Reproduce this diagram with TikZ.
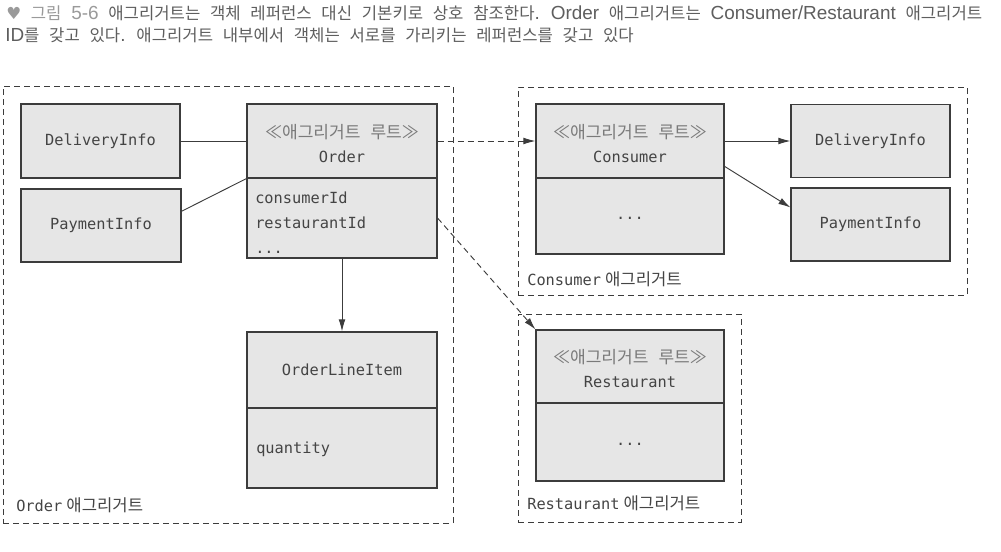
\documentclass[tikz,border=0pt]{standalone}
\usepackage{fontspec}
\usepackage{xcolor}
\usepackage{tikz}
\usetikzlibrary{arrows.meta,fit,positioning}
\newfontfamily\krfont{Noto Sans CJK KR}
\newfontfamily\krtitle[WordSpace=2.6]{Noto Sans CJK KR}
\newfontfamily\latfont{Liberation Sans}
\newfontfamily\symfont{DejaVu Sans}
\setmonofont{DejaVu Sans Mono}
\definecolor{boxfill}{HTML}{E6E6E6}
\definecolor{boxline}{HTML}{3C3C3C}
\definecolor{txtgray}{HTML}{444444}
\definecolor{stereogray}{HTML}{7A7A7A}
\definecolor{capgray}{HTML}{9A9A9A}
\definecolor{titlegray}{HTML}{5E5E5E}
\newcommand{\entxt}[1]{{\latfont\fontsize{14.2}{16}\selectfont #1}}
\newcommand{\stereo}{{\krfont\fontsize{12.8}{18}\selectfont\color{stereogray}\rule{0pt}{14pt}≪애그리거트 루트≫}}
\newcommand{\aggname}{\hspace{3pt}{\krfont\fontsize{12.5}{14}\selectfont 애그리거트}}

\begin{document}
\begin{tikzpicture}[x=0.75pt,y=-0.75pt,
	classbox/.style={draw=boxline,fill=boxfill,line width=0.8pt,inner sep=0pt,text=txtgray,align=center,font=\ttfamily\fontsize{11.5}{18}\selectfont},
	wide/.style={minimum width=142.5pt},
	small/.style={minimum width=119.25pt,minimum height=54.75pt},
	dots/.style={text height=1.5ex,text depth=0.25ex},
	fieldtxt/.style={anchor=base west,inner sep=0pt,text=txtgray,align=left,font=\ttfamily\fontsize{11.5}{18.75}\selectfont},
	aggbox/.style={draw=boxline,line width=0.75pt,dash pattern=on 4.5pt off 3pt,inner sep=0pt},
	agglabel/.style={anchor=base west,inner sep=0pt,text=txtgray,font=\ttfamily\fontsize{11.5}{14}\selectfont},
	titletxt/.style={anchor=base west,inner sep=0pt,text=titlegray,font=\krtitle\fontsize{12.5}{14}\selectfont},
	link/.style={draw=boxline,line width=0.7pt},
	ref/.style={link,dash pattern=on 4.5pt off 3pt},
	>={Latex[length=3.2mm,width=1.8mm]}]
	\useasboundingbox (0,0) rectangle (1001,551);
	\node[titletxt] (title1) at (6,19) {{\symfont\color{capgray}♥} {\color{capgray}그림 \entxt{5-6}} 애그리거트는 객체 레퍼런스 대신 기본키로 상호 참조한다\entxt{.} \entxt{Order} 애그리거트는 \entxt{Consumer/Restaurant} 애그리거트};
	\node[titletxt] (title2) at (5,41) {\entxt{ID}를 갖고 있다\entxt{.} 애그리거트 내부에서 객체는 서로를 가리키는 레퍼런스를 갖고 있다};

	\node[aggbox,fit={(3,86)(453,523)}] (ordagg) {};
	\node[aggbox,fit={(518,87)(967,295)}] (conagg) {};
	\node[aggbox,fit={(518,314)(741,522)}] (resagg) {};
	\node[agglabel] (ordlbl) at (16,511) {Order\aggname};
	\node[agglabel] (conlbl) at (527,285) {Consumer\aggname};
	\node[agglabel] (reslbl) at (527,509) {Restaurant\aggname};

	\node[classbox,small,minimum height=55.5pt] (dlinfo) at (100.5,141) {DeliveryInfo};
	\node[classbox,small,minimum width=120pt] (plinfo) at (101,225.5) {PaymentInfo};
	\node[classbox,wide,minimum height=55.5pt] (ordhead) at (342,141) {\stereo\\Order};
	\node[classbox,wide,minimum height=60pt] (ordbody) at (342,218) {};
	\node[fieldtxt] (ordfields) at (255,253) {consumerId\\restaurantId\\...};
	\node[classbox,wide,minimum height=57pt] (olihead) at (342,370) {OrderLineItem};
	\node[classbox,wide,minimum height=60pt] (olibody) at (342,448) {};
	\node[fieldtxt] (olifields) at (256,453) {quantity};

	\node[classbox,wide,minimum width=141pt,minimum height=55.5pt] (conhead) at (630,141) {\stereo\\Consumer};
	\node[classbox,wide,dots,minimum width=141pt,minimum height=57pt] (conbody) at (630,216) {...};
	\node[classbox,small] (drinfo) at (870.5,141) {DeliveryInfo};
	\node[classbox,small] (prinfo) at (870.5,224.5) {PaymentInfo};

	\node[classbox,wide,minimum width=141pt,minimum height=54.75pt] (reshead) at (630,366.5) {\stereo\\Restaurant};
	\node[classbox,wide,dots,minimum width=141pt,minimum height=58.5pt] (resbody) at (630,442) {...};

	\draw[link] (dlinfo.east) -- (ordhead.west);
	\draw[link] (plinfo.10) -- (ordhead.south west);
	\draw[link,->] (ordbody.south) -- (olihead.north);
	\draw[ref,->] (ordhead.east) -- (conhead.west);
	\draw[ref,->] (ordbody.east) -- (reshead.north west);
	\draw[link,->] (conhead.east) -- (drinfo.west);
	\draw[link,->] (conhead.-15) -- (prinfo.168);
\end{tikzpicture}
\end{document}
